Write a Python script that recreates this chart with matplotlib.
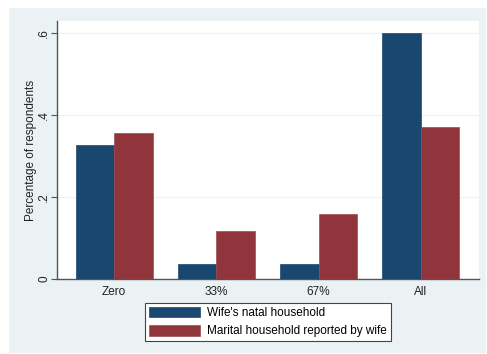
import matplotlib.pyplot as plt
import matplotlib.patches as mpatches
import numpy as np

plt.rcParams['font.family'] = ['Liberation Sans', 'DejaVu Sans']

categories = ['Zero', '33%', '67%', 'All']
natal = [0.327, 0.037, 0.036, 0.600]
marital = [0.357, 0.116, 0.158, 0.370]
series_labels = ["Wife's natal household", 'Marital household reported by wife']

blue = '#1a476f'
red = '#90353b'
outer_bg = '#eaf2f3'

x = np.arange(len(categories))
width = 0.375

fig = plt.figure(figsize=(4.87, 3.54), dpi=100, facecolor='white')
fig.patches.append(mpatches.Rectangle((0.0185, 0.003), 0.979, 0.975,
                                      transform=fig.transFigure,
                                      facecolor=outer_bg, edgecolor='none',
                                      zorder=-10))

ax = fig.add_axes([0.117, 0.2119, 0.8666, 0.7288])
ax.set_zorder(1)
ax.set_facecolor('white')

b1 = ax.bar(x - width / 2, natal, width, color=blue, edgecolor=blue,
            linewidth=0.5, label=series_labels[0], zorder=3)
b2 = ax.bar(x + width / 2, marital, width, color=red, edgecolor='#a04a50',
            linewidth=0.5, label=series_labels[1], zorder=3)

ax.set_xlim(-0.56, 3.57)
ax.set_ylim(0, 0.63)
ax.set_yticks([0, 0.2, 0.4, 0.6])
ax.set_yticklabels(['0', '.2', '.4', '.6'], rotation=90, va='center')
ax.set_xticks(x)
ax.set_xticklabels(categories)
ax.tick_params(axis='x', length=0, labelsize=8.5, pad=5, colors='#222222')
ax.tick_params(axis='y', length=4, width=0.8, labelsize=8.5, pad=1,
               colors='#555555', labelcolor='#222222')
ax.grid(axis='y', color=outer_bg, linewidth=0.8, zorder=0)
ax.set_axisbelow(True)

for side in ['top', 'right']:
    ax.spines[side].set_visible(False)
for side in ['left', 'bottom']:
    ax.spines[side].set_color('#555555')
    ax.spines[side].set_linewidth(1.0)

ax.set_ylabel('Percentage of respondents', fontsize=8.5, color='#222222',
              labelpad=1)

leg = fig.legend(handles=[b1, b2], labels=series_labels,
                 loc='upper center', bbox_to_anchor=(0.550, 0.145),
                 ncol=1, fontsize=8.5, frameon=True, fancybox=False,
                 framealpha=1, edgecolor='#444444', handlelength=4.3,
                 handleheight=1.0, labelspacing=0.5, borderpad=0.35,
                 handletextpad=0.6, borderaxespad=0)
leg.get_frame().set_linewidth(0.8)

fig.savefig('out.png', dpi=100, facecolor='white')
